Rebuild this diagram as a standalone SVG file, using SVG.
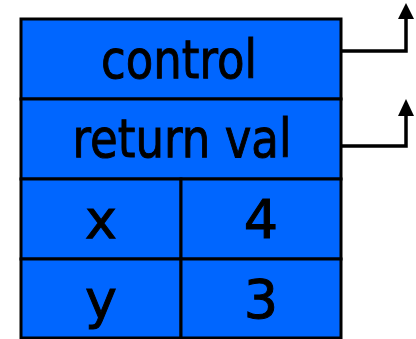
<svg xmlns="http://www.w3.org/2000/svg" width="416" height="339" viewBox="0 0 416 339">
<style>
.cell{fill:#0066ff;stroke:#000;stroke-width:3}
.t{font-family:"DejaVu Sans","Liberation Sans",sans-serif;font-size:54px;fill:#000;stroke:#000;stroke-width:1;text-anchor:middle}
.conn{fill:none;stroke:#000;stroke-width:3.5}
.head{fill:#000}
</style>
<g id="control">
<rect class="cell" x="21" y="19" width="320" height="80"/>
<text class="t" x="179" y="78" textLength="156" lengthAdjust="spacingAndGlyphs">control</text>
</g>
<g id="return-val">
<rect class="cell" x="21" y="99" width="320" height="80"/>
<text class="t" x="182" y="157" textLength="219" lengthAdjust="spacingAndGlyphs">return val</text>
</g>
<g id="x-name">
<rect class="cell" x="21" y="179" width="160" height="80"/>
<text class="t" x="101" y="238">x</text>
</g>
<g id="x-val">
<rect class="cell" x="181" y="179" width="160" height="80"/>
<text class="t" x="261" y="238">4</text>
</g>
<g id="y-name">
<rect class="cell" x="21" y="259" width="160" height="79"/>
<text class="t" x="101" y="318">y</text>
</g>
<g id="y-val">
<rect class="cell" x="181" y="259" width="160" height="79"/>
<text class="t" x="261" y="318">3</text>
</g>
<g id="connectors">
<path class="conn" d="M341,51 H406 V17"/>
<polygon class="head" points="406,3 398,19 414,19"/>
<path class="conn" d="M341,146 H406 V114"/>
<polygon class="head" points="406,99 398,116 414,116"/>
</g>
</svg>
